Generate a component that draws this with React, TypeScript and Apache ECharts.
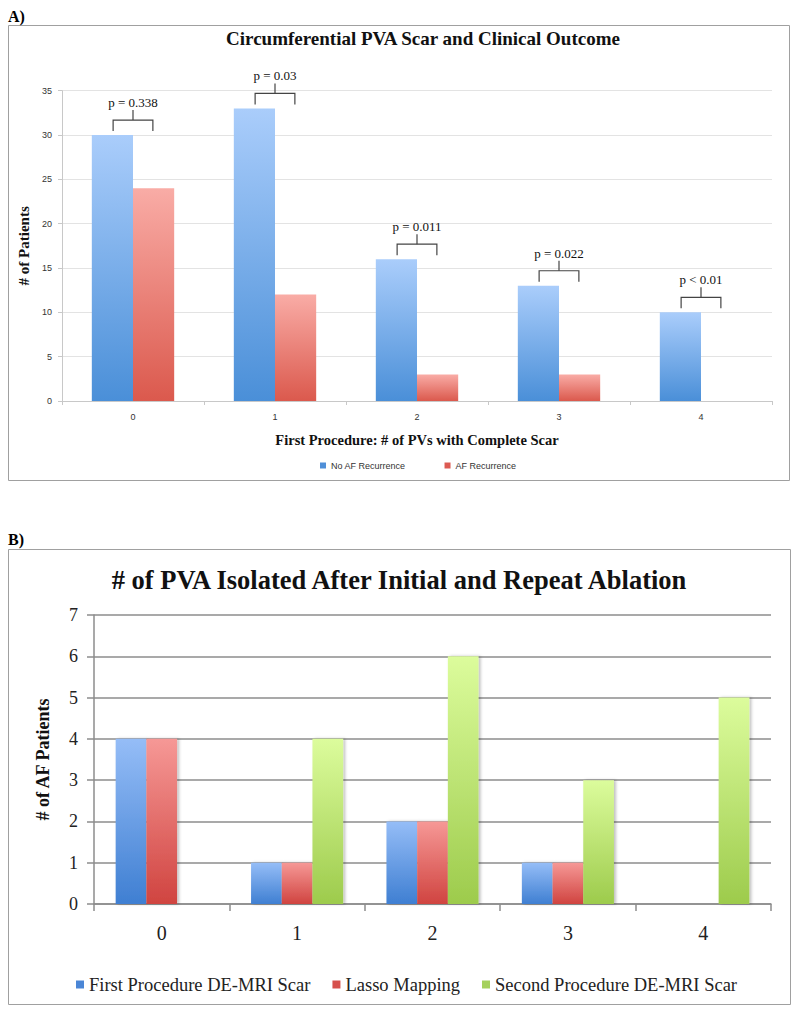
import React, { useEffect, useRef } from 'react';
import * as echarts from 'echarts';

// ---------- Panel A data ----------
const categoriesA = ['0', '1', '2', '3', '4'];
const noRecurrence = [30, 33, 16, 13, 10];
const afRecurrence = [24, 12, 3, 3, 0];
const pValueLabels = ['p = 0.338', 'p = 0.03', 'p = 0.011', 'p = 0.022', 'p < 0.01'];

// ---------- Panel B data ----------
const categoriesB = ['0', '1', '2', '3', '4'];
const firstProcedure = [4, 1, 2, 1, 0];
const lassoMapping = [4, 1, 2, 1, 0];
const secondProcedure = [0, 4, 6, 3, 5];

const SERIF = '"Liberation Serif", "Times New Roman", serif';
const SANS = '"Liberation Sans", "Open Sans", sans-serif';

const grad = (top: string, bottom: string) =>
  new echarts.graphic.LinearGradient(0, 0, 0, 1, [
    { offset: 0, color: top },
    { offset: 1, color: bottom },
  ]);

export default function App() {
  const ref = useRef<HTMLDivElement>(null);

  useEffect(() => {
    if (!ref.current) return;
    const chart = echarts.init(ref.current, undefined, { renderer: 'svg' });

    const bracketData = categoriesA.map((_, i) => [i, Math.max(noRecurrence[i], afRecurrence[i])]);

    const option: any = {
      animation: false,
      backgroundColor: '#ffffff',
      graphic: [
        { type: 'rect', shape: { x: 8.5, y: 25.5, width: 781, height: 455 }, style: { fill: 'none', stroke: '#a0a0a0', lineWidth: 1 }, z: 0 },
        { type: 'rect', shape: { x: 8.5, y: 549.5, width: 782, height: 455 }, style: { fill: 'none', stroke: '#a0a0a0', lineWidth: 1 }, z: 0 },
        { type: 'text', x: 8, y: 16, style: { text: 'A)', font: `bold 16px ${SERIF}`, fill: '#000', textVerticalAlign: 'middle' } },
        { type: 'text', x: 8, y: 539, style: { text: 'B)', font: `bold 16px ${SERIF}`, fill: '#000', textVerticalAlign: 'middle' } },
        { type: 'text', x: 423, y: 38, style: { text: 'Circumferential PVA Scar and Clinical Outcome', font: `bold 19px ${SERIF}`, fill: '#111', textAlign: 'center', textVerticalAlign: 'middle' } },
        { type: 'text', x: 399, y: 580, style: { text: '# of PVA Isolated After Initial and Repeat Ablation', font: `bold 26.5px ${SERIF}`, fill: '#111', textAlign: 'center', textVerticalAlign: 'middle' } },
      ],
      legend: [
        {
          data: [
            { name: 'No AF Recurrence', itemStyle: { color: '#4f8fd8' } },
            { name: 'AF Recurrence', itemStyle: { color: '#dc5a52' } },
          ],
          left: 315,
          top: 456,
          icon: 'rect',
          itemWidth: 6,
          itemHeight: 6,
          itemGap: 39,
          textStyle: { fontSize: 9, color: '#333', fontFamily: SANS },
        },
        {
          data: [
            { name: 'First Procedure DE-MRI Scar', itemStyle: { color: '#4a86d6' } },
            { name: 'Lasso Mapping', itemStyle: { color: '#d6504c' } },
            { name: 'Second Procedure DE-MRI Scar', itemStyle: { color: '#a5d15c' } },
          ],
          left: 71,
          top: 970,
          icon: 'rect',
          itemWidth: 8,
          itemHeight: 8,
          itemGap: 22,
          textStyle: { fontSize: 18.5, color: '#222', fontFamily: SERIF },
        },
      ],
      grid: [
        { left: 62, top: 90.7, width: 710, height: 310.3 },
        { left: 94, top: 615, width: 677, height: 289 },
      ],
      xAxis: [
        {
          gridIndex: 0,
          type: 'category',
          data: categoriesA,
          axisLine: { lineStyle: { color: '#c8c8c8' } },
          axisTick: { show: true, length: 4, lineStyle: { color: '#c8c8c8' } },
          axisLabel: { fontSize: 9, color: '#333', margin: 11, fontFamily: SANS },
          name: 'First Procedure: # of PVs with Complete Scar',
          nameLocation: 'middle',
          nameGap: 31,
          nameTextStyle: { fontFamily: SERIF, fontWeight: 'bold', fontSize: 14.5, color: '#111' },
        },
        {
          gridIndex: 1,
          type: 'category',
          data: categoriesB,
          axisLine: { lineStyle: { color: '#8c8c8c', width: 1.5 } },
          axisTick: { show: true, length: 7, lineStyle: { color: '#8c8c8c', width: 1.5 } },
          axisLabel: { fontSize: 20, color: '#222', margin: 19, fontFamily: SERIF },
        },
      ],
      yAxis: [
        {
          gridIndex: 0,
          type: 'value',
          min: 0,
          max: 35,
          interval: 5,
          axisLine: { show: true, lineStyle: { color: '#c8c8c8' } },
          axisTick: { show: true, length: 4, lineStyle: { color: '#c8c8c8' } },
          splitLine: { lineStyle: { color: '#e3e3e3' } },
          axisLabel: { fontSize: 9, color: '#333', margin: 10, fontFamily: SANS },
          name: '# of Patients',
          nameLocation: 'middle',
          nameGap: 27,
          nameTextStyle: { fontFamily: SERIF, fontWeight: 'bold', fontSize: 15, color: '#111' },
        },
        {
          gridIndex: 1,
          type: 'value',
          min: 0,
          max: 7,
          interval: 1,
          axisLine: { show: true, lineStyle: { color: '#8c8c8c', width: 1.5 } },
          axisTick: { show: true, length: 7, lineStyle: { color: '#8c8c8c', width: 1.5 } },
          splitLine: { lineStyle: { color: '#8c8c8c', width: 1.5 } },
          axisLabel: { fontSize: 18, color: '#222', margin: 16, fontFamily: SERIF },
          name: '# of AF Patients',
          nameLocation: 'middle',
          nameGap: 42,
          nameTextStyle: { fontFamily: SERIF, fontWeight: 'bold', fontSize: 18, color: '#111' },
        },
      ],
      series: [
        {
          name: 'No AF Recurrence',
          type: 'bar',
          xAxisIndex: 0,
          yAxisIndex: 0,
          data: noRecurrence,
          barGap: '0%',
          barCategoryGap: '42%',
          itemStyle: { color: grad('#aacdfb', '#4a8fd8') },
        },
        {
          name: 'AF Recurrence',
          type: 'bar',
          xAxisIndex: 0,
          yAxisIndex: 0,
          data: afRecurrence,
          barGap: '0%',
          barCategoryGap: '42%',
          itemStyle: { color: grad('#f9aca6', '#db594d') },
        },
        {
          name: 'p-values',
          type: 'custom',
          xAxisIndex: 0,
          yAxisIndex: 0,
          data: bracketData,
          clip: false,
          silent: true,
          z: 10,
          renderItem: (params: any, api: any) => {
            const cat = api.value(0);
            const v = api.value(1);
            const pt = api.coord([cat, v]);
            const bw = api.size([1, 0])[0];
            const half = bw * 0.14;
            const cx = pt[0];
            const bottom = pt[1] - 4;
            const top = bottom - 11;
            const stem = top - 10;
            return {
              type: 'group',
              children: [
                {
                  type: 'polyline',
                  shape: { points: [[cx - half, bottom], [cx - half, top], [cx + half, top], [cx + half, bottom]] },
                  style: { stroke: '#444', fill: null, lineWidth: 1.2 },
                },
                {
                  type: 'line',
                  shape: { x1: cx, y1: top, x2: cx, y2: stem },
                  style: { stroke: '#444', lineWidth: 1.2 },
                },
                {
                  type: 'text',
                  x: cx,
                  y: stem - 1,
                  style: {
                    text: pValueLabels[params.dataIndex],
                    textAlign: 'center',
                    textVerticalAlign: 'bottom',
                    font: `13px ${SERIF}`,
                    fill: '#111',
                  },
                },
              ],
            };
          },
        },
        {
          name: 'First Procedure DE-MRI Scar',
          type: 'bar',
          xAxisIndex: 1,
          yAxisIndex: 1,
          data: firstProcedure,
          barGap: '0%',
          barCategoryGap: '32%',
          itemStyle: { color: grad('#95bdf7', '#3f7fd2'), shadowColor: 'rgba(0,0,0,0.25)', shadowBlur: 3, shadowOffsetX: 2 },
        },
        {
          name: 'Lasso Mapping',
          type: 'bar',
          xAxisIndex: 1,
          yAxisIndex: 1,
          data: lassoMapping,
          barGap: '0%',
          barCategoryGap: '32%',
          itemStyle: { color: grad('#f69896', '#d04440'), shadowColor: 'rgba(0,0,0,0.25)', shadowBlur: 3, shadowOffsetX: 2 },
        },
        {
          name: 'Second Procedure DE-MRI Scar',
          type: 'bar',
          xAxisIndex: 1,
          yAxisIndex: 1,
          data: secondProcedure,
          barGap: '0%',
          barCategoryGap: '32%',
          itemStyle: { color: grad('#dcfc9c', '#9dcb4c'), shadowColor: 'rgba(0,0,0,0.25)', shadowBlur: 3, shadowOffsetX: 2 },
        },
      ],
    };

    chart.setOption(option);
    return () => chart.dispose();
  }, []);

  return <div ref={ref} style={{ position: 'absolute', left: 0, top: 0, width: 800, height: 1013 }} />;
}
